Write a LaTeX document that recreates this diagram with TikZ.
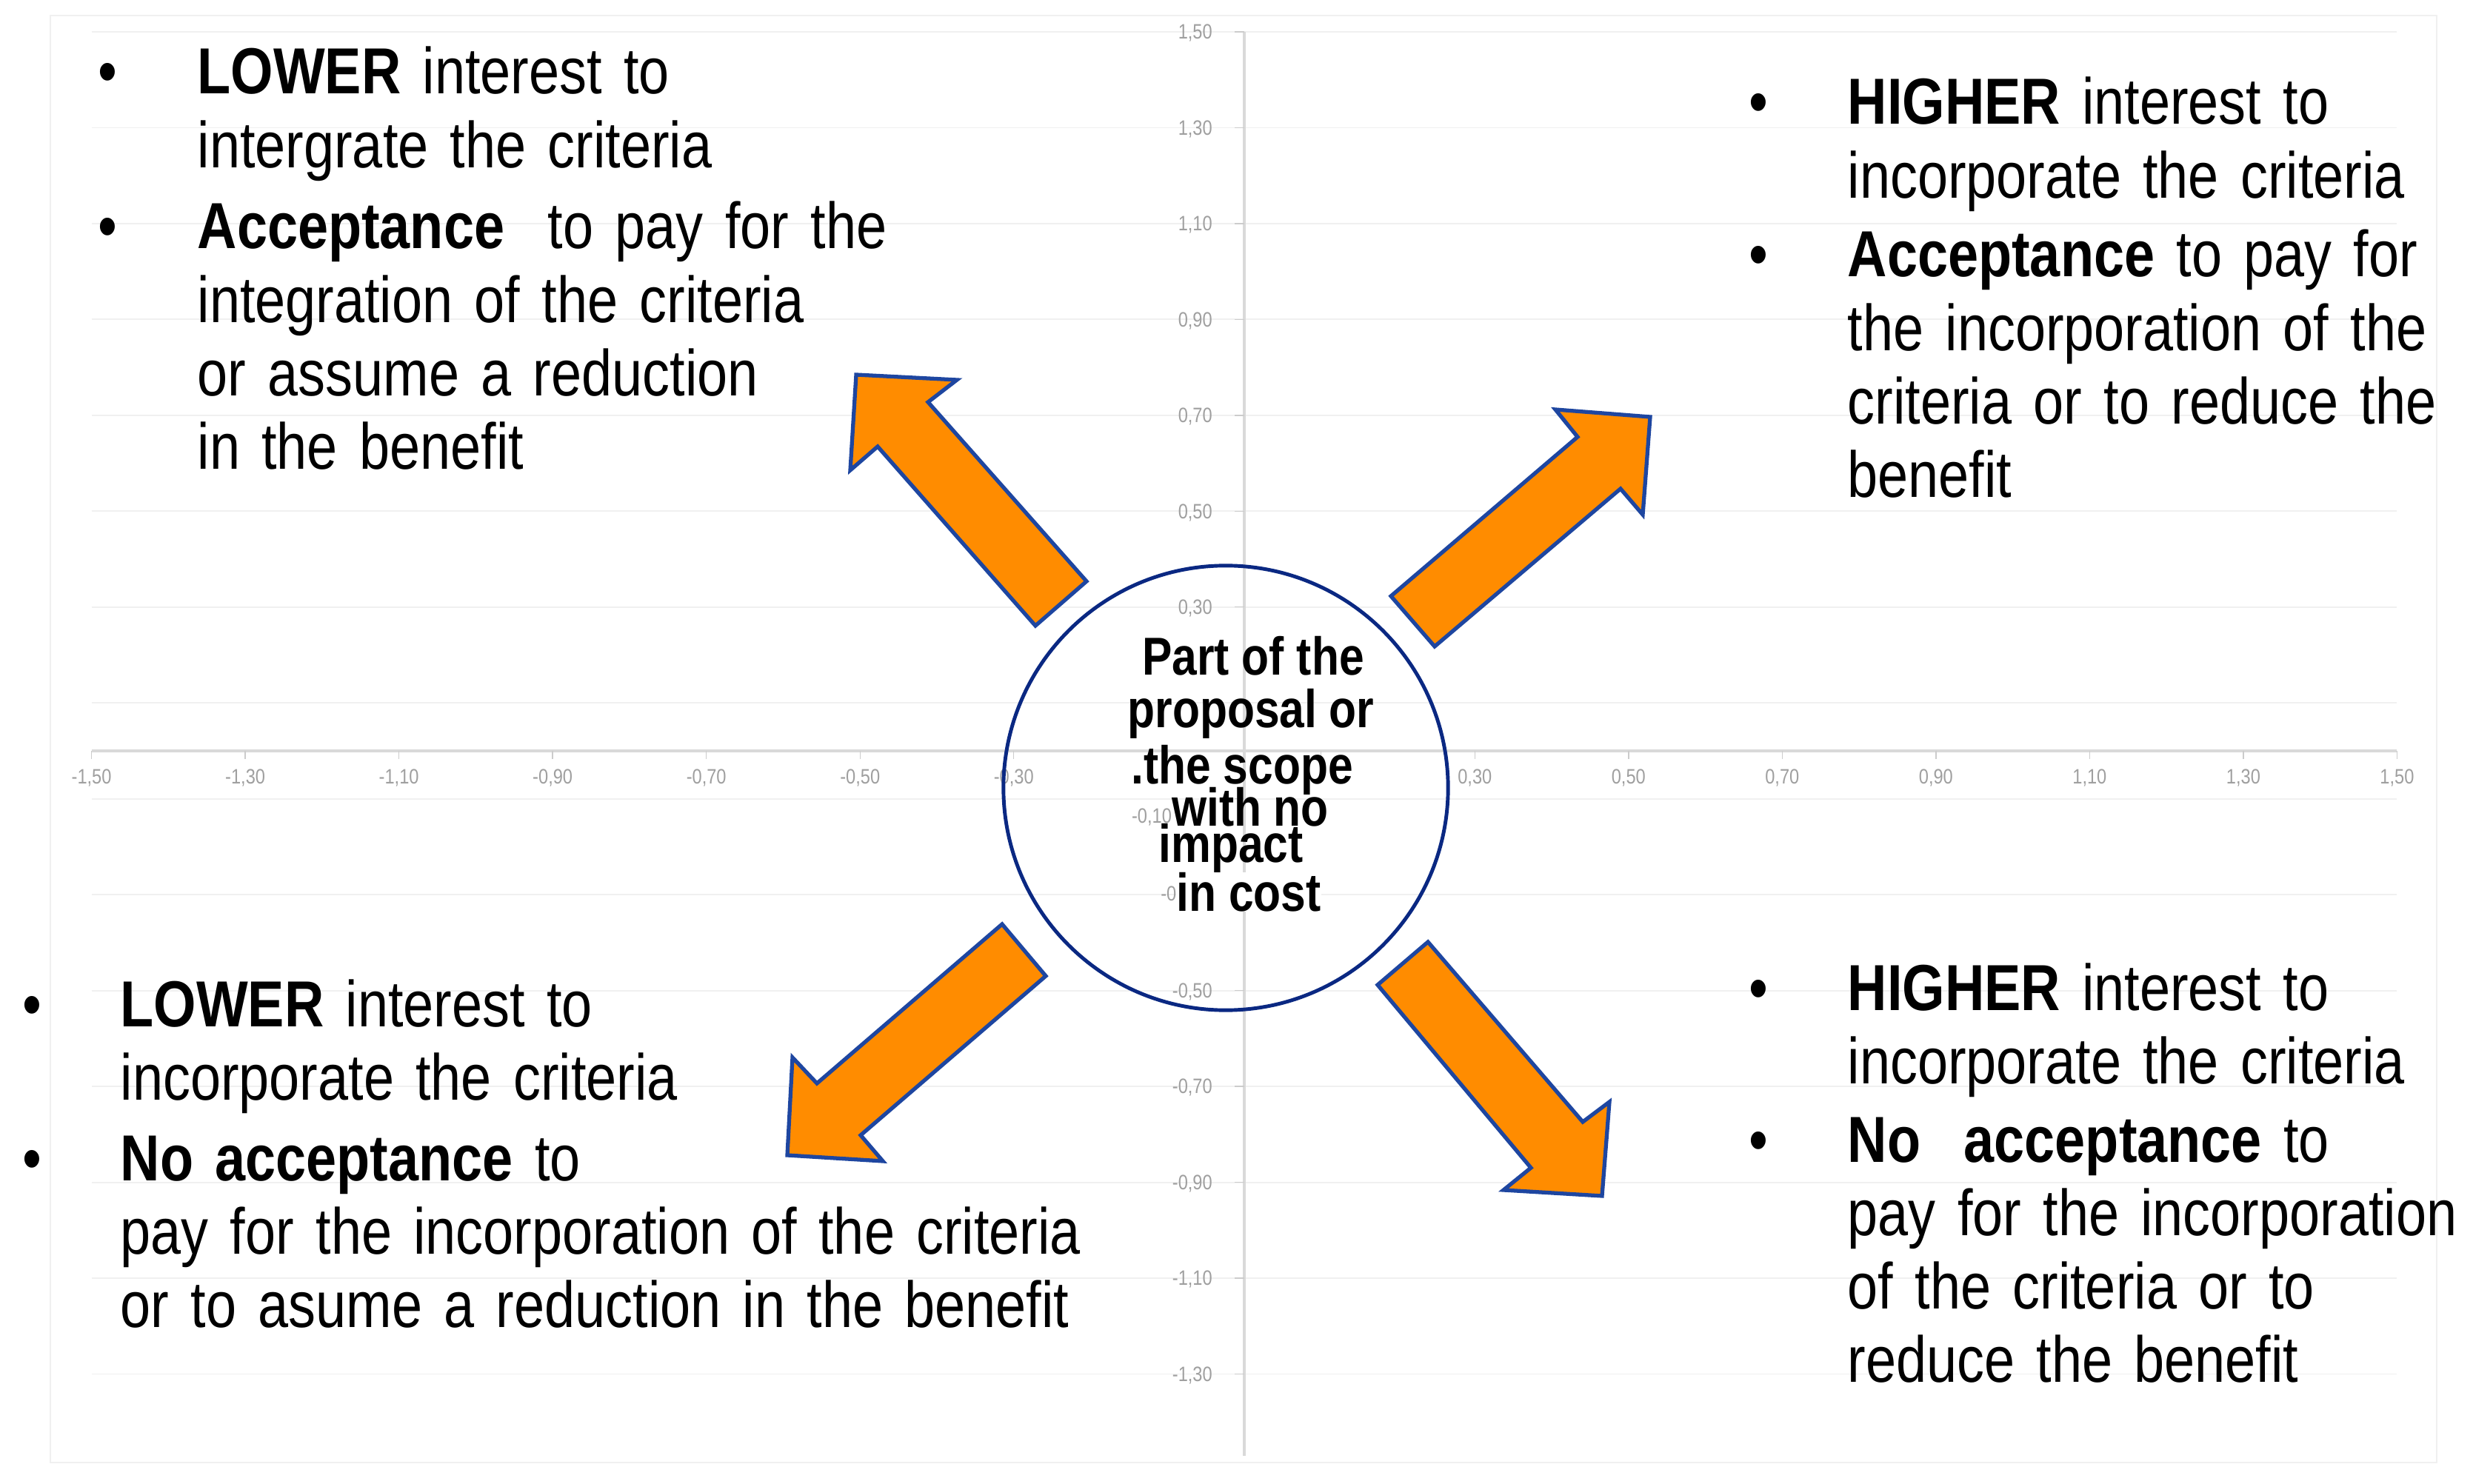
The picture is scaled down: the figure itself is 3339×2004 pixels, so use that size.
\documentclass[tikz,border=0pt]{standalone}
\usepackage{fontspec}
\setmainfont{Liberation Sans}[FakeStretch=0.84]
\definecolor{arroworange}{RGB}{255,140,0}
\definecolor{arrowblue}{RGB}{30,70,160}
\definecolor{ringblue}{RGB}{10,40,130}
\tikzset{
  bigarrow/.style={draw=arrowblue, line width=1.5pt, fill=arroworange, line join=miter},
  bodytext/.style={anchor=base west, inner sep=0pt, align=left, text width=14cm, font=\fontsize{25}{28.2}\selectfont},
  bulletmark/.style={anchor=base, inner sep=0pt, font=\fontsize{25}{28.2}\selectfont},
  coretext/.style={anchor=base, inner sep=0pt, font=\fontsize{20.5}{21}\selectfont\bfseries},
  ticklabel/.style={inner sep=0pt, text=gray!75, font=\fontsize{8}{9}\selectfont},
  gridline/.style={gray!12, line width=0.5pt},
  axisline/.style={gray!30, line width=1.4pt},
}
\begin{document}
\begin{tikzpicture}[x=0.01cm, y=-0.01cm]
  \useasboundingbox (0,0) rectangle (3339,2004);
  % faint chart frame
  \draw[gray!12] (68,21) rectangle (3290,1975);

  % grid, axes and tick labels (data units)
  \begin{scope}[shift={(1680,1014)}, x=10.37cm, y=6.47cm]
    \foreach \k in {-13,-11,...,15}
      \draw[gridline] (-1.5,\k/10) -- (1.5,\k/10);
    \draw[axisline] (-1.5,0) -- (1.5,0);
    \draw[axisline] (0,1.5) -- (0,-1.47);
    \foreach \k in {-15,-13,...,15}
      \draw[gray!40] (\k/10,0) -- (\k/10,-0.017);
    \foreach \k in {-13,-11,...,15}
      \draw[gray!40] (0,\k/10) -- (-0.0125,\k/10);
    \foreach \k in {-15,-13,-11,-9,-7,-5,-3,3,5,7,9,11,13,15} {
      \pgfmathtruncatemacro\ip{abs(\k)/10}
      \pgfmathtruncatemacro\dp{mod(abs(\k),10)}
      \node[ticklabel] (xl\k) at (\k/10,-0.053) {\ifnum\k<0 -\fi\ip,\dp0};
    }
    \foreach \k in {15,13,11,9,7,5,3,-5,-7,-9,-11,-13} {
      \pgfmathtruncatemacro\ip{abs(\k)/10}
      \pgfmathtruncatemacro\dp{mod(abs(\k),10)}
      \node[ticklabel, anchor=east] (yl\k) at (-0.041,\k/10) {\ifnum\k<0 -\fi\ip,\dp0};
    }
    \node[ticklabel, anchor=east] (yl-3) at (-0.056,-0.3) {-0,30};
  \end{scope}
  \node[ticklabel] (yl-1) at (1555,1103) {-0,10};

  % centre circle
  \node[draw=ringblue, line width=1.4pt, circle, minimum size=6cm, inner sep=0pt] (core) at (1655,1064) {};
  \node[coretext] (c1) at (1692,912) {Part of the};
  \node[coretext] (c2) at (1689,983) {proposal or};
  \node[coretext] (c3) at (1677,1059) {.the scope};
  \node[coretext] (c4) at (1688,1115) {with no};
  \node[coretext] (c5) at (1662,1164) {impact};
  \node[coretext, fill=white] (c6) at (1686,1230) {in cost};

  % orange arrows
  \draw[bigarrow] (1156,506) -- (1292,513) -- (1253,543) -- (1467,785) -- (1398,845) -- (1185,603) -- (1148,635) -- cycle;
  \draw[bigarrow] (2228,563) -- (2218,695) -- (2188,660) -- (1937,873) -- (1878,805) -- (2130,590) -- (2100,553) -- cycle;
  \draw[bigarrow] (1063,1560) -- (1070,1428) -- (1103,1463) -- (1353,1248) -- (1412,1318) -- (1162,1533) -- (1192,1568) -- cycle;
  \draw[bigarrow] (2163,1615) -- (2030,1607) -- (2067,1577) -- (1860,1330) -- (1928,1272) -- (2137,1515) -- (2173,1488) -- cycle;

  % upper left
  \node[bulletmark] (tlb1) at (145,127) {\textbullet};
  \node[bodytext] (tl1) at (266,127) {\textbf{LOWER} interest to\\intergrate the criteria};
  \node[bulletmark] (tlb2) at (145,336) {\textbullet};
  \node[bodytext] (tl2) at (266,336) {\textbf{Acceptance}~ to pay for the\\integration of the criteria\\or assume a reduction\\in the benefit};

  % upper right
  \node[bulletmark] (trb1) at (2374,168) {\textbullet};
  \node[bodytext] (tr1) at (2494,168) {\textbf{HIGHER} interest to\\incorporate the criteria};
  \node[bulletmark] (trb2) at (2374,374) {\textbullet};
  \node[bodytext] (tr2) at (2494,374) {\textbf{Acceptance} to pay for\\the incorporation of the\\criteria or to reduce the\\benefit};

  % lower left
  \node[bulletmark] (blb1) at (43,1386) {\textbullet};
  \node[bodytext] (bl1) at (162,1386) {\textbf{LOWER} interest to\\incorporate the criteria};
  \node[bulletmark] (blb2) at (43,1594) {\textbullet};
  \node[bodytext] (bl2) at (162,1594) {\textbf{No acceptance} to\\pay for the incorporation of the criteria\\or to asume a reduction in the benefit};

  % lower right
  \node[bulletmark] (brb1) at (2374,1364) {\textbullet};
  \node[bodytext] (br1) at (2494,1364) {\textbf{HIGHER} interest to\\incorporate the criteria};
  \node[bulletmark] (brb2) at (2374,1569) {\textbullet};
  \node[bodytext] (br2) at (2494,1569) {\textbf{No~ acceptance} to\\pay for the incorporation\\of the criteria or to\\reduce the benefit};
\end{tikzpicture}
\end{document}
